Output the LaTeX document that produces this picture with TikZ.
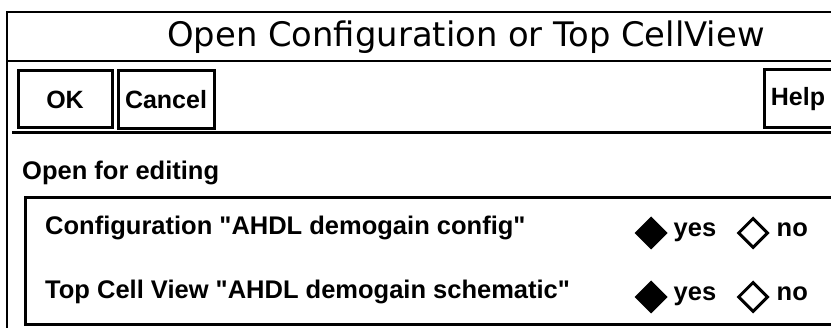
\documentclass[tikz,border=0pt]{standalone}
\usepackage{fontspec}
\setmainfont{DejaVu Sans}
\newfontfamily\guifont{Liberation Sans}
\usetikzlibrary{
	positioning,
	shapes.geometric,
}
\tikzset{frame line/.style={line width=1.5pt}}
\tikzset{heavy line/.style={line width=3pt}}
\tikzset{button/.style={draw,line width=3pt,inner sep=0pt,font=\guifont\bfseries\fontsize{25}{25}\selectfont}}
\tikzset{caption/.style={inner sep=0pt,text height=0.72em,text depth=0pt,font=\guifont\bfseries\fontsize{25.5}{25}\selectfont}}
\tikzset{radio/.style={diamond,draw,line width=3pt,inner sep=0pt,minimum width=30pt,minimum height=30pt}}
\tikzset{radio on/.style={radio,fill=black}}
\tikzset{radio off/.style={radio,fill=white}}

\begin{document}
\begin{tikzpicture}[x=1pt,y=-1pt]

\useasboundingbox (0,0) rectangle (831,328);
\clip (0,0) rectangle (831,328);

\node[inner sep=0pt,font=\fontsize{33.8}{34}\selectfont](title) at(466,37){Open Configuration or Top CellView};
\draw[frame line] (7,340) -- (7,12) -- (840,12);
\draw[frame line] (7,61) -- (840,61);

\node[button,minimum width=94pt,minimum height=57pt](ok) at(65,99.5){OK};
\node[button,minimum width=96pt,minimum height=58pt](cancel) at(166,100){Cancel};
\node[button,minimum width=68pt,minimum height=58pt](help) at(798,99){Help};
\draw[heavy line] (12,133) -- (840,133);

\node[caption,anchor=west](edit) at(22,176){Open for editing};
\draw[heavy line] (840,198) -- (25,198) -- (25,325) -- (840,325);

\foreach \n/\y/\txt in {cfg/231/{Configuration "AHDL demogain config"},top/295/{Top Cell View "AHDL demogain schematic"}}{
	\node[caption,anchor=west](\n) at(45,\y){\txt};
	\node[radio on](\n on) at(651,\y+2){};
	\node[caption,right=6pt of \n on](\n yes){yes};
	\node[radio off](\n off) at(753,\y+2){};
	\node[caption,right=7pt of \n off](\n no){no};
}

\end{tikzpicture}
\end{document}
